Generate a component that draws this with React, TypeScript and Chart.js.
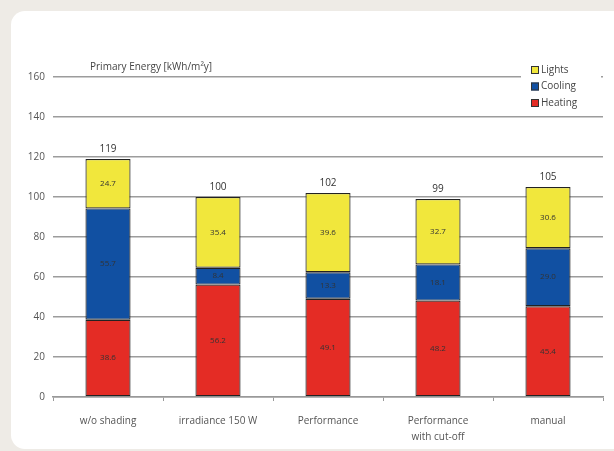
import React, { useEffect, useRef } from "react";
import { Chart, registerables } from "chart.js";

Chart.register(...registerables);

const categories: (string | string[])[] = [
  "w/o shading",
  "irradiance 150 W",
  "Performance",
  ["Performance", "with cut-off"],
  "manual",
];
const heating = [38.6, 56.2, 49.1, 48.2, 45.4];
const cooling = [55.7, 8.4, 13.3, 18.1, 29.0];
const lights = [24.7, 35.4, 39.6, 32.7, 30.6];
const totals = [119, 100, 102, 99, 105];
const axisTitle = "Primary Energy [kWh/m²y]";

const FONT = "'Open Sans', 'DejaVu Sans', sans-serif";

const labelPlugin = {
  id: "labels",
  afterDatasetsDraw(chart: any) {
    const ctx = chart.ctx;
    ctx.save();
    ctx.font = `8px ${FONT}`;
    ctx.fillStyle = "#333";
    ctx.textAlign = "center";
    ctx.textBaseline = "middle";
    chart.data.datasets.forEach((ds: any, di: number) => {
      const meta = chart.getDatasetMeta(di);
      meta.data.forEach((bar: any, i: number) => {
        const v = ds.data[i];
        const y = (bar.y + bar.base) / 2;
        ctx.fillText(v.toFixed(1), bar.x, y);
      });
    });
    const last = chart.getDatasetMeta(chart.data.datasets.length - 1);
    ctx.font = `10px ${FONT}`;
    ctx.fillStyle = "#333";
    ctx.textBaseline = "bottom";
    last.data.forEach((bar: any, i: number) => {
      ctx.fillText(String(totals[i]), bar.x, bar.y - 5);
    });
    // axis title
    ctx.textAlign = "left";
    ctx.textBaseline = "middle";
    ctx.fillStyle = "#444";
    ctx.font = `10px ${FONT}`;
    ctx.fillText(axisTitle, 90, 67);
    // legend
    ctx.fillStyle = "#ffffff";
    ctx.fillRect(521, 60, 80, 52);
    const items = [...chart.data.datasets].reverse();
    items.forEach((ds: any, k: number) => {
      const y = 70 + k * 16.5;
      ctx.fillStyle = ds.backgroundColor;
      ctx.fillRect(531, y - 4, 8, 8);
      ctx.strokeStyle = "#333";
      ctx.lineWidth = 1;
      ctx.strokeRect(531.5, y - 3.5, 7, 7);
      ctx.fillStyle = "#444";
      ctx.font = `10px ${FONT}`;
      ctx.fillText(ds.label, 541, y);
    });
    ctx.restore();
  },
};

export default function App() {
  const ref = useRef<HTMLCanvasElement | null>(null);
  useEffect(() => {
    if (!ref.current) return;
    const mk = (label: string, data: number[], color: string) => ({
      label,
      data,
      backgroundColor: color,
      borderColor: "#222",
      borderWidth: 1.2,
      borderSkipped: false,
      barPercentage: 0.41,
      categoryPercentage: 1,
    });
    const chart = new Chart(ref.current, {
      type: "bar",
      data: {
        labels: categories,
        datasets: [
          mk("Heating", heating, "#e42c25"),
          mk("Cooling", cooling, "#1150a2"),
          mk("Lights", lights, "#f1e73c"),
        ],
      },
      options: {
        responsive: false,
        animation: false,
        layout: { padding: { top: 77, right: 11, left: 20, bottom: 0 } },
        plugins: { legend: { display: false }, tooltip: { enabled: false } },
        scales: {
          x: {
            stacked: true,
            grid: {
              offset: true,
              drawOnChartArea: false,
              drawTicks: true,
              tickLength: 4,
              color: "#999",
            },
            border: { display: true, color: "#999", width: 1.5 },
            ticks: {
              color: "#555",
              padding: 12,
              font: { family: FONT, size: 10, lineHeight: 1.6 },
              maxRotation: 0,
              autoSkip: false,
            },
            afterFit: (s: any) => {
              s.height = 54;
            },
          },
          y: {
            stacked: true,
            min: 0,
            max: 160,
            ticks: {
              stepSize: 20,
              color: "#555",
              padding: 8,
              font: { family: FONT, size: 10 },
            },
            grid: { color: "#9c9c9c", lineWidth: 1.5, drawTicks: false },
            border: { display: false },
            afterFit: (s: any) => {
              s.width = 33;
            },
          },
        },
      },
      plugins: [labelPlugin],
    });
    return () => chart.destroy();
  }, []);
  return (
    <div
      style={{
        position: "fixed",
        left: 0,
        top: 0,
        width: 614,
        height: 451,
        background: "#eeebe6",
        overflow: "hidden",
      }}
    >
      <div
        style={{
          position: "absolute",
          left: 11,
          top: 11,
          width: 640,
          height: 438,
          background: "#ffffff",
          borderRadius: 14,
        }}
      />
      <canvas
        ref={ref}
        width={614}
        height={451}
        style={{ position: "absolute", left: 0, top: 0, width: 614, height: 451 }}
      />
    </div>
  );
}
